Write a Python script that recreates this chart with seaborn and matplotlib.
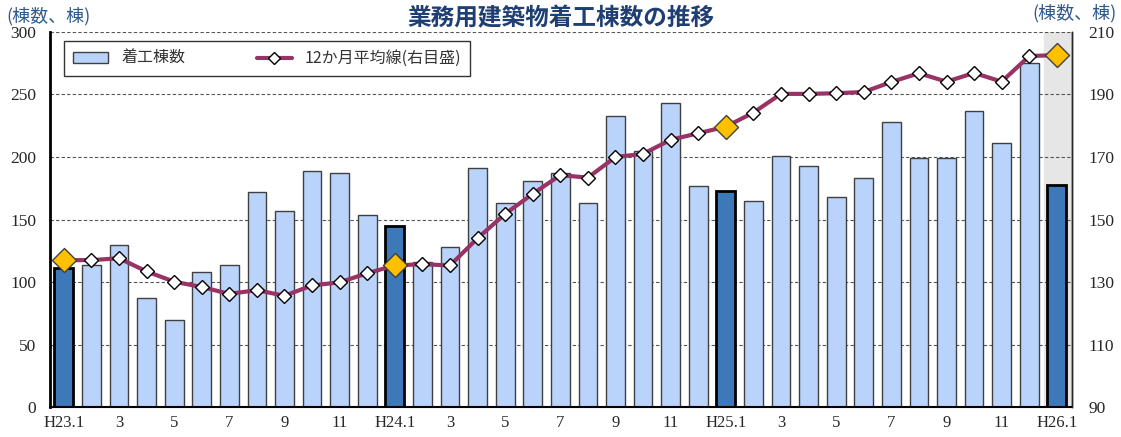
import numpy as np
import pandas as pd
import seaborn as sns
import matplotlib.pyplot as plt
from matplotlib.patches import Patch
from matplotlib.lines import Line2D

# 月別の着工棟数 (H23.1 ~ H26.1)
months = ['H23.1', '2', '3', '4', '5', '6', '7', '8', '9', '10', '11', '12',
          'H24.1', '2', '3', '4', '5', '6', '7', '8', '9', '10', '11', '12',
          'H25.1', '2', '3', '4', '5', '6', '7', '8', '9', '10', '11', '12',
          'H26.1']
starts = [111, 114, 130, 87, 70, 108, 114, 172, 157, 189, 187, 154,
          145, 116, 128, 191, 163, 181, 187, 163, 233, 205, 243, 177,
          173, 165, 201, 193, 168, 183, 228, 199, 199, 237, 211, 275,
          178]
avg12 = [137.0, 137.0, 137.6, 133.4, 130.1, 128.4, 126.2, 127.4, 125.6, 128.9, 129.9, 132.8,
         135.3, 135.7, 135.3, 144.0, 151.8, 158.2, 164.2, 163.4, 170.0, 171.0, 175.5, 177.6,
         179.7, 184.2, 190.2, 190.2, 190.4, 190.8, 194.0, 196.8, 194.1, 196.9, 194.1, 202.3,
         202.6]
jan_idx = [0, 12, 24, 36]

df = pd.DataFrame({'pos': np.arange(len(months)), 'starts': starts, 'avg': avg12})

sns.set_style('white')
plt.rcParams['font.family'] = ['Liberation Serif', 'Noto Sans CJK JP']

fig = plt.figure(figsize=(11.21, 4.37), dpi=100)
ax = fig.add_axes([0.0446, 0.0686, 0.9117, 0.8582])

ax.axvspan(35.55, 36.6, color='#E6E6E6', zorder=0)

sns.barplot(data=df, x='pos', y='starts', color='#B9D3FB', width=0.68,
            edgecolor='#404040', linewidth=1.0, saturation=1, ax=ax, zorder=2)
for i, p in enumerate(ax.containers[0].patches):
    if i in jan_idx:
        p.set_facecolor('#3D78B8')
        p.set_edgecolor('black')
        p.set_linewidth(2.0)

ax.set_ylim(0, 300)
ax.set_yticks(range(0, 301, 50))
ax.set_xlim(-0.5, 36.55)
ax.grid(axis='y', color='#555555', linestyle=(0, (3, 2)), linewidth=0.8)
ax.set_axisbelow(True)
ax.set_xlabel('')
ax.set_ylabel('')

tick_pos = list(range(0, 37, 2))
ax.set_xticks(tick_pos)
ax.set_xticklabels([months[i] for i in tick_pos])
ax.set_xticks(np.arange(0.5, 36, 1), minor=True)
ax.tick_params(axis='x', which='major', length=0, labelsize=12, pad=6)
ax.tick_params(axis='x', which='minor', direction='in', length=4, width=1, color='black')
ax.tick_params(axis='y', length=0, labelsize=12.5, pad=10)

ax.spines['top'].set_visible(False)
ax.spines['left'].set_linewidth(2)
ax.spines['left'].set_color('black')
ax.spines['bottom'].set_linewidth(1.5)
ax.spines['bottom'].set_color('black')
ax.spines['right'].set_linewidth(1)
ax.spines['right'].set_color('black')

ax2 = ax.twinx()
sns.lineplot(data=df, x='pos', y='avg', color='#993366', linewidth=3, ax=ax2,
             marker='D', markersize=7, markerfacecolor='white',
             markeredgecolor='black', markeredgewidth=1, zorder=3)
ax2.scatter(df['pos'].iloc[jan_idx], df['avg'].iloc[jan_idx], marker='D', s=150,
            color='#FFC000', edgecolor='#404040', linewidth=1, zorder=4)
ax2.set_ylim(90, 210)
ax2.set_yticks(range(90, 211, 20))
ax2.set_xlim(-0.5, 36.55)
ax2.set_ylabel('')
ax2.tick_params(axis='y', length=0, labelsize=12.5, pad=12)
for s in ['top', 'left', 'bottom']:
    ax2.spines[s].set_visible(False)
ax2.spines['right'].set_linewidth(1)

handles = [Patch(facecolor='#B9D3FB', edgecolor='#404040', label='着工棟数'),
           Line2D([0], [0], color='#993366', linewidth=3, marker='D', markersize=6,
                  markerfacecolor='white', markeredgecolor='black', label='12か月平均線(右目盛)')]
leg = ax2.legend(handles=handles, loc='upper left', bbox_to_anchor=(0.014, 0.975),
                 ncol=2, frameon=True, fancybox=False, columnspacing=4.5,
                 handlelength=2.2, borderpad=0.55, borderaxespad=0,
                 prop={'family': ['Noto Sans CJK JP'], 'size': 11.5})
leg.get_frame().set_edgecolor('black')
leg.get_frame().set_linewidth(1)
for t in leg.get_texts():
    t.set_color('#333333')

fig.text(0.5, 0.958, '業務用建築物着工棟数の推移', ha='center', va='center',
         fontsize=17, fontweight='bold', color='#1F3F73', family='Noto Sans CJK JP')
fig.text(0.006, 0.963, '(棟数、棟)', ha='left', va='center', fontsize=13,
         color='#2F5A8F', family='Noto Sans CJK JP')
fig.text(0.996, 0.970, '(棟数、棟)', ha='right', va='center', fontsize=13,
         color='#2F5A8F', family='Noto Sans CJK JP')

fig.savefig('out.png', dpi=100)
